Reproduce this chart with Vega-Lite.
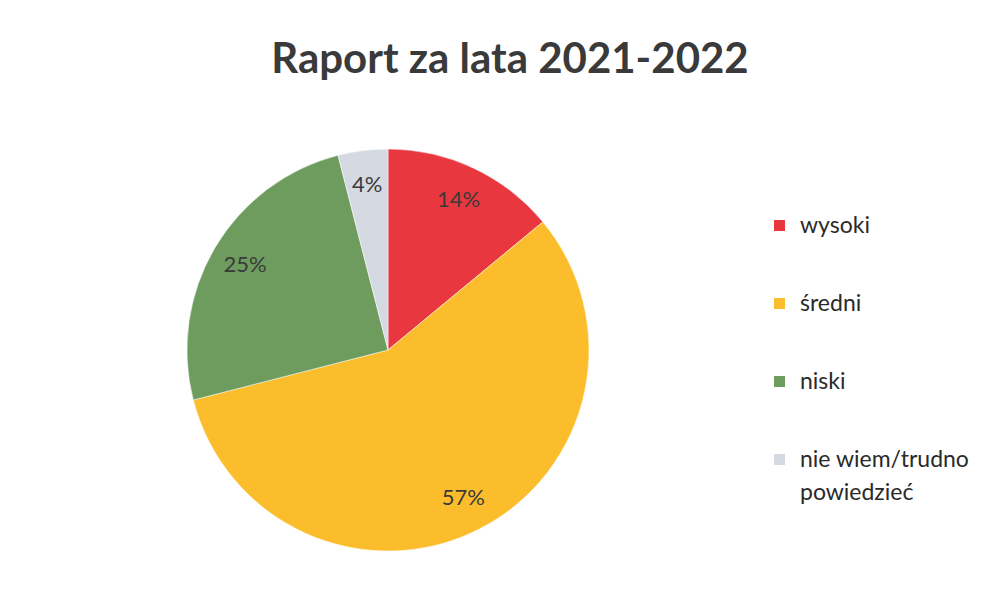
{
  "$schema": "https://vega.github.io/schema/vega-lite/v6.json",
  "width": 776,
  "height": 400,
  "autosize": "none",
  "padding": {"left": 0, "top": 150, "right": 213, "bottom": 65},
  "background": "white",
  "config": {
    "view": {"stroke": null},
    "font": "Lato",
    "style": {"guide-label": {"lineHeight": 33}}
  },
  "title": {
    "text": "Raport za lata 2021-2022",
    "fontSize": 42,
    "font": "Lato",
    "fontWeight": "bold",
    "color": "#3a3a3a",
    "anchor": "middle",
    "dx": 122,
    "offset": 66
  },
  "data": {
    "values": [
      {"kategoria": "wysoki", "udzial": 0.14, "ord": 1},
      {"kategoria": "średni", "udzial": 0.57, "ord": 2},
      {"kategoria": "niski", "udzial": 0.25, "ord": 3},
      {"kategoria": "nie wiem/trudno powiedzieć", "udzial": 0.04, "ord": 4}
    ]
  },
  "encoding": {
    "theta": {"field": "udzial", "type": "quantitative", "stack": true},
    "order": {"field": "ord", "type": "quantitative"},
    "color": {
      "field": "kategoria",
      "type": "nominal",
      "scale": {
        "domain": ["wysoki", "średni", "niski", "nie wiem/trudno powiedzieć"],
        "range": ["#e9373f", "#fbbd2c", "#6e9c5f", "#d5dae2"]
      },
      "legend": {
        "title": null,
        "orient": "none",
        "legendX": 768,
        "legendY": 64,
        "symbolType": "square",
        "symbolSize": 120,
        "symbolStrokeWidth": 0,
        "labelFontSize": 23,
        "labelFont": "Lato",
        "labelColor": "#2a2a2a",
        "labelLimit": 300,
        "rowPadding": 54,
        "labelOffset": 9,
        "labelExpr": "datum.label == 'nie wiem/trudno powiedzieć' ? ['nie wiem/trudno', 'powiedzieć'] : datum.label"
      }
    }
  },
  "layer": [
    {"mark": {"type": "arc", "outerRadius": 201, "stroke": "white", "strokeWidth": 0.5}},
    {
      "mark": {"type": "text", "radius": 166, "fontSize": 22, "font": "Lato", "color": "#3a3a3a"},
      "encoding": {
        "text": {"field": "udzial", "type": "quantitative", "format": ".0%"},
        "color": {"value": "#3a3a3a"}
      }
    }
  ]
}
